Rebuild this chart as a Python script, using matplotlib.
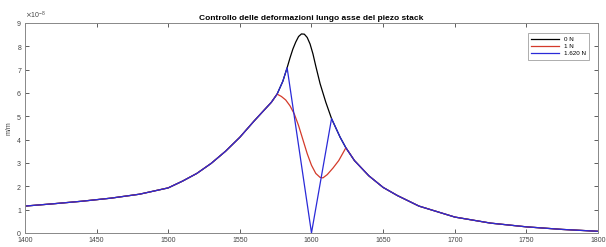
import numpy as np
import matplotlib
matplotlib.use("Agg")
import matplotlib.pyplot as plt
from matplotlib.ticker import ScalarFormatter

# Base response (values in units of 1e-8 m/m)
base_freq = [1400, 1420, 1440, 1460, 1480, 1500, 1510, 1520, 1530, 1540, 1550,
             1560, 1566, 1572, 1576, 1580, 1583, 1585, 1587, 1589, 1591, 1593,
             1595, 1597, 1599, 1601, 1603, 1606, 1610, 1614, 1620, 1624, 1630,
             1640, 1650, 1660, 1675, 1700, 1725, 1750, 1775, 1800]
base_vals = [1.15, 1.25, 1.36, 1.49, 1.66, 1.93, 2.22, 2.55, 2.98, 3.5, 4.1,
             4.8, 5.2, 5.6, 5.95, 6.5, 7.08, 7.5, 7.88, 8.18, 8.42, 8.53,
             8.52, 8.38, 8.1, 7.68, 7.15, 6.4, 5.6, 4.9, 4.1, 3.65, 3.1,
             2.45, 1.95, 1.6, 1.15, 0.68, 0.42, 0.26, 0.15, 0.07]

# Deviating segments
red_freq = [1579, 1582, 1585, 1588, 1591, 1594, 1597, 1600, 1603, 1606, 1608,
            1611, 1615, 1619]
red_vals = [5.85, 5.7, 5.45, 5.1, 4.6, 4.0, 3.4, 2.9, 2.55, 2.38, 2.36,
            2.5, 2.78, 3.1]
blue_freq = [1600]
blue_vals = [0.0]

labels = ["0 N", "1 N", "1.620 N"]
scale = 1e-8

def merge(lo, hi, seg_f, seg_v):
    f = [x for x in base_freq if x <= lo] + seg_f + [x for x in base_freq if x >= hi]
    v = [v for x, v in zip(base_freq, base_vals) if x <= lo] + seg_v + \
        [v for x, v in zip(base_freq, base_vals) if x >= hi]
    return np.array(f), np.array(v) * scale

black_f, black_v = np.array(base_freq), np.array(base_vals) * scale
red_f, red_v = merge(1576, 1624, red_freq, red_vals)
blue_f, blue_v = merge(1583, 1614, blue_freq, blue_vals)

plt.rcParams['font.family'] = ['Liberation Sans', 'DejaVu Sans']
fig = plt.figure(figsize=(6.06, 2.47), dpi=100)
ax = fig.add_axes([0.041, 0.057, 0.946, 0.850])

ax.plot(black_f, black_v, color='black', lw=0.9, label=labels[0])
ax.plot(red_f, red_v, color='#d43a2a', lw=0.9, label=labels[1])
ax.plot(blue_f, blue_v, color='#2a2ad8', lw=0.9, label=labels[2])

ax.set_xlim(1400, 1800)
ax.set_ylim(0, 9e-8)
ax.set_xticks(np.arange(1400, 1801, 50))
ax.set_yticks(np.arange(0, 9.01e-8, 1e-8))
fmt = ScalarFormatter(useMathText=True)
fmt.set_powerlimits((0, 0))
ax.yaxis.set_major_formatter(fmt)
ax.yaxis.get_offset_text().set_fontsize(5)
ax.yaxis.get_offset_text().set_color('#444444')

ax.tick_params(direction='in', length=3, width=0.6, labelsize=5,
               colors='#444444', top=True, right=True, pad=2)
ax.tick_params(axis='x', pad=3)
for s in ax.spines.values():
    s.set_color('#888888')
    s.set_linewidth(0.7)

ax.set_ylabel('m/m', fontsize=5, color='#444444', labelpad=3)
ax.set_title('Controllo delle deformazioni lungo asse del piezo stack',
             fontsize=6, fontweight='bold', pad=2)

leg = ax.legend(loc='upper right', fontsize=4.5, handlelength=4.5,
                frameon=True, fancybox=False, borderpad=0.5, labelspacing=0.3,
                bbox_to_anchor=(0.99, 0.965))
leg.get_frame().set_edgecolor('#888888')
leg.get_frame().set_linewidth(0.6)

fig.savefig('out.png', dpi=100)
